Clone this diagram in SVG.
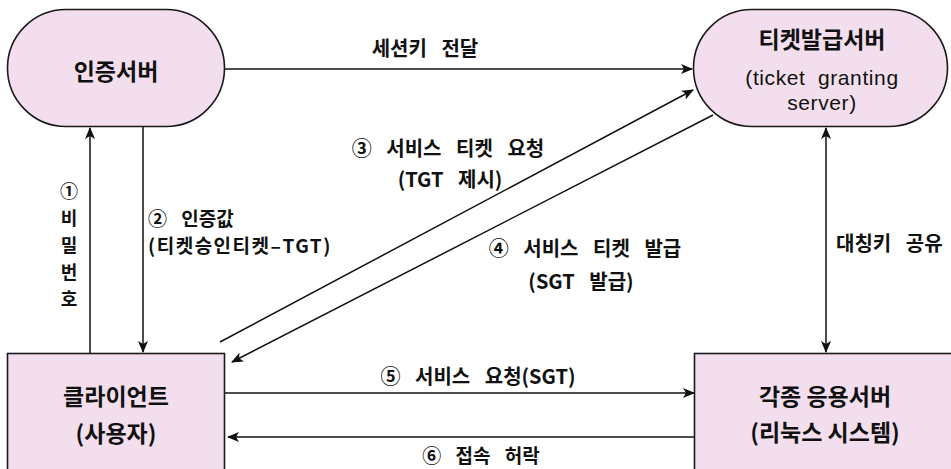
<svg xmlns="http://www.w3.org/2000/svg" width="951" height="469" viewBox="0 0 951 469">
<style>
.node{fill:#f3deed;stroke:#1a1a1a;stroke-width:1.6}
.t{font-family:"Noto Sans CJK KR","Noto Sans",sans-serif;fill:#111;dominant-baseline:central}
.nb{font-size:23px;font-weight:bold;text-anchor:middle}
.nr{font-family:"Liberation Sans",Arial,sans-serif;font-size:21px;text-anchor:middle;word-spacing:6px;letter-spacing:0.6px}
.lb{font-size:20px;font-weight:bold;word-spacing:10px}
.c{text-anchor:middle}
.e{fill:none;stroke:#111;stroke-width:1.5}
</style>
<defs>
<marker id="ah" viewBox="0 0 12 10" refX="11" refY="5" markerWidth="12" markerHeight="10" markerUnits="userSpaceOnUse" orient="auto-start-reverse">
<path d="M0,0 L12,5 L0,10 L3,5 z" fill="#111"/>
</marker>
</defs>
<rect width="951" height="469" fill="#fff"/>
<g id="auth-server">
<rect class="node" x="7.5" y="9.5" width="217" height="117" rx="58.5"/>
<text class="t nb" x="116" y="70">인증서버</text>
</g>
<g id="ticket-server">
<rect class="node" x="693.5" y="9.5" width="254" height="117" rx="58.5"/>
<text class="t nb" x="822" y="38">티켓발급서버</text>
<text class="t nr" x="822" y="77">(ticket granting<tspan x="822" dy="25">server)</tspan></text>
</g>
<g id="client">
<rect class="node" x="7.5" y="353.5" width="217" height="130"/>
<text class="t nb" x="116" y="395">클라이언트<tspan x="116" dy="37">(사용자)</tspan></text>
</g>
<g id="app-server">
<rect class="node" x="694.5" y="353.5" width="270" height="130"/>
<text class="t nb" x="825" y="395">각종 응용서버<tspan x="825" dy="36">(리눅스 시스템)</tspan></text>
</g>
<g id="connectors">
<line class="e" x1="225" y1="69" x2="692" y2="69" marker-end="url(#ah)"/>
<line class="e" x1="90" y1="353" x2="90" y2="128" marker-end="url(#ah)"/>
<line class="e" x1="143" y1="127" x2="143" y2="352" marker-end="url(#ah)"/>
<line class="e" x1="220" y1="342" x2="693" y2="90" marker-end="url(#ah)"/>
<line class="e" x1="713" y1="115" x2="232" y2="362" marker-end="url(#ah)"/>
<line class="e" x1="225" y1="393" x2="694" y2="393" marker-end="url(#ah)"/>
<line class="e" x1="694" y1="437" x2="228" y2="437" marker-end="url(#ah)"/>
<line class="e" x1="826" y1="128" x2="826" y2="352" marker-start="url(#ah)" marker-end="url(#ah)"/>
</g>
<g id="labels">
<text class="t lb c" x="425" y="47">세션키 전달</text>
<text class="t lb c" x="69" y="190" style="font-size:18px">①<tspan x="69" dy="27">비</tspan><tspan x="69" dy="27">밀</tspan><tspan x="69" dy="27">번</tspan><tspan x="69" dy="27">호</tspan></text>
<text class="t lb" x="148" y="217" style="font-size:19px">② 인증값<tspan x="148" dy="27" style="word-spacing:0;letter-spacing:1.5px">(티켓승인티켓–TGT)</tspan></text>
<text class="t lb c" x="448" y="147">③ 서비스 티켓 요청<tspan x="450" dy="31">(TGT 제시)</tspan></text>
<text class="t lb c" x="585" y="247">④ 서비스 티켓 발급<tspan x="581" dy="33">(SGT 발급)</tspan></text>
<text class="t lb c" x="478" y="375">⑤ 서비스 요청(SGT)</text>
<text class="t lb c" x="481" y="454" style="font-size:19px">⑥ 접속 허락</text>
<text class="t lb" x="836" y="242">대칭키 공유</text>
</g>
</svg>
